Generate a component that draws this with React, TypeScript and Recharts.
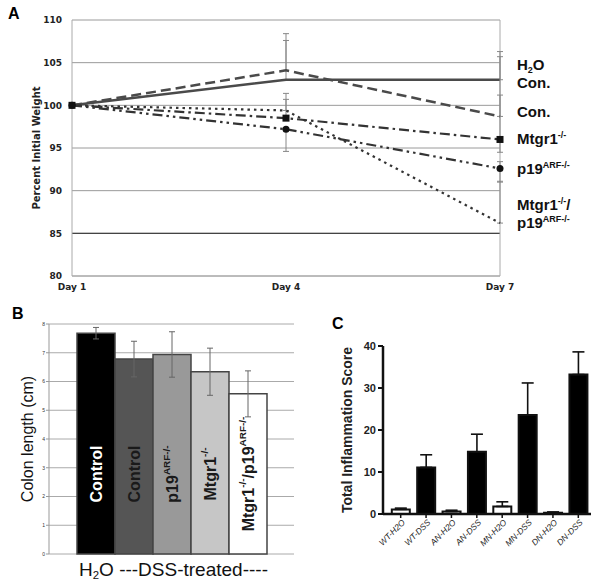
import React from 'react';
import { LineChart, Line, BarChart, Bar, XAxis, YAxis, CartesianGrid, ErrorBar, ReferenceLine, Cell, LabelList, Label } from 'recharts';

// panel A: body weight
const days = ['Day 1', 'Day 4', 'Day 7'];
const h2oCon = [100, 103.0, 103.0];
const dssCon = [100, 104.1, 98.7];
const mtgr1 = [100, 98.5, 96.0];
const p19 = [100, 97.2, 92.6];
const dko = [100, 99.4, 86.2];
const h2oConErr = [[0, 0], [0, 4.6], [0, 2.7]];
const dssConErr = [[0, 0], [0, 4.3], [0, 7.6]];
const mtgr1Err = [[0, 0], [0, 2.2], [1.5, 5.2]];
const p19Err = [[0, 0], [2.6, 0], [1.6, 0.8]];
const dkoErr = [[0, 0], [0, 2.0], [0, 4.9]];
const weightTicks = [80, 85, 90, 95, 100, 105, 110];

// panel B: colon length
const colonGroups = ['Control', 'Control', 'p19^{ARF-/-}', 'Mtgr1^{-/-}', 'Mtgr1^{-/-}/p19^{ARF-/-}'];
const colonLength = [7.68, 6.78, 6.94, 6.34, 5.57];
const colonErr = [0.2, 0.62, 0.79, 0.82, 0.8];
const colonFills = ['#000000', '#555555', '#999999', '#c6c6c6', '#ffffff'];
const colonTicks = [0, 1, 2, 3, 4, 5, 6, 7, 8];

// panel C: inflammation score
const scoreGroups = ['WT-H2O', 'WT-DSS', 'AN-H2O', 'AN-DSS', 'MN-H2O', 'MN-DSS', 'DN-H2O', 'DN-DSS'];
const scores = [1.1, 11.1, 0.6, 14.8, 1.8, 23.6, 0.3, 33.2];
const scoreErr = [0.3, 3.0, 0.3, 4.2, 1.1, 7.6, 0.2, 5.4];
const scoreTicks = [0, 10, 20, 30, 40];

const weightData = days.map((d, i) => ({
  day: d,
  h2oCon: h2oCon[i], dssCon: dssCon[i], mtgr1: mtgr1[i], p19: p19[i], dko: dko[i],
  h2oConErr: h2oConErr[i], dssConErr: dssConErr[i], mtgr1Err: mtgr1Err[i], p19Err: p19Err[i], dkoErr: dkoErr[i],
}));
const colonData = colonGroups.map((g, i) => ({ id: 'g' + i, name: g, value: colonLength[i], err: colonErr[i] }));
const scoreData = scoreGroups.map((g, i) => ({ name: g, value: scores[i], err: [0, scoreErr[i]] }));

const ARIAL = '"Liberation Sans", Arial, sans-serif';
const VERDANA = '"DejaVu Sans", Verdana, sans-serif';

function richParts(s: string) {
  return s.split(/(\^\{[^}]*\})/).filter(Boolean).map(p =>
    p.startsWith('^{') ? { text: p.slice(2, -1), sup: true } : { text: p, sup: false });
}

function HtmlRich({ s }: { s: string }) {
  return (
    <>
      {richParts(s).map((p, i) => p.sup
        ? <sup key={i} style={{ fontSize: '0.6em', lineHeight: 0, verticalAlign: '0.65em' }}>{p.text}</sup>
        : <span key={i}>{p.text}</span>)}
    </>
  );
}

const SquareDot = (props: any) => {
  const { cx, cy, index } = props;
  if (cx == null || cy == null) return <g key={index} />;
  return <rect key={index} x={cx - 3.5} y={cy - 3.5} width={7} height={7} fill="#111" />;
};
const RoundDot = (props: any) => {
  const { cx, cy, index } = props;
  if (cx == null || cy == null) return <g key={index} />;
  return <circle key={index} cx={cx} cy={cy} r={3.5} fill="#111" />;
};

const renderColonLabel = (props: any) => {
  const { x, y, width, height, index } = props;
  const cx = x + width / 2;
  const cy = y + height - 80;
  const fs = 16;
  const color = index === 0 ? '#ffffff' : '#1a1a1a';
  let raised = false;
  const spans = richParts(colonGroups[index]).map((p, i) => {
    let dy = 0;
    if (p.sup && !raised) { dy = -fs * 0.38; raised = true; }
    else if (!p.sup && raised) { dy = fs * 0.38; raised = false; }
    return <tspan key={i} dy={dy} fontSize={p.sup ? fs * 0.62 : fs}>{p.text}</tspan>;
  });
  return (
    <text x={cx} y={cy} transform={`rotate(-90, ${cx}, ${cy})`} textAnchor="middle" dominantBaseline="central"
      fill={color} fontFamily={ARIAL} fontWeight="bold" fontSize={fs}>
      {spans}
    </text>
  );
};

const ScoreTick = (props: any) => {
  const { x, y, payload } = props;
  const tx = x + 5;
  const ty = y + 4;
  return (
    <text x={tx} y={ty} transform={`rotate(-45, ${tx}, ${ty})`} textAnchor="end" fontSize={8.5}
      fontStyle="italic" fill="#222" fontFamily={ARIAL}>
      {payload.value}
    </text>
  );
};

const rightLabels = [
  { top: 57, s: 'H', sub: '2', rest: 'O' },
  { top: 75, s: 'Con.' },
  { top: 104, s: 'Con.' },
  { top: 131, s: 'Mtgr1^{-/-}' },
  { top: 161, s: 'p19^{ARF-/-}' },
  { top: 197, s: 'Mtgr1^{-/-}/' },
  { top: 215, s: 'p19^{ARF-/-}' },
];

export default function App() {
  return (
    <div style={{ position: 'absolute', left: 0, top: 0, width: 600, height: 585, background: '#fff', overflow: 'hidden' }}>
      {/* A */}
      <div style={{ position: 'absolute', left: 8, top: 6, fontFamily: ARIAL, fontWeight: 'bold', fontSize: 16, lineHeight: 1 }}>A</div>
      <div style={{ position: 'absolute', left: 0, top: 0 }}>
        <LineChart width={600} height={300} data={weightData} margin={{ top: 20, right: 100, bottom: 0, left: 0 }}>
          <CartesianGrid vertical={false} stroke="#9a9a9a" strokeWidth={1} />
          <XAxis dataKey="day" height={24} axisLine={{ stroke: '#aaa' }} tickLine={false}
            tick={{ fontSize: 9, fontWeight: 'bold', fill: '#222', fontFamily: VERDANA }} />
          <YAxis width={72} domain={[80, 110]} ticks={weightTicks} axisLine={{ stroke: '#aaa' }} tickLine={false} tickMargin={4}
            tick={{ fontSize: 9, fontWeight: 'bold', fill: '#222', fontFamily: VERDANA }}>
            <Label value="Percent Initial Weight" angle={-90} position="center" dx={0}
              style={{ fontSize: 10, fontWeight: 'bold', fill: '#222', fontFamily: VERDANA }} />
          </YAxis>
          <ReferenceLine y={85} stroke="#444" strokeWidth={1.2} />
          <ReferenceLine x="Day 7" stroke="#aaa" />
          <Line dataKey="h2oCon" stroke="#4a4a4a" strokeWidth={2.5} dot={false} isAnimationActive={false}>
            <ErrorBar dataKey="h2oConErr" width={3} stroke="#888" strokeWidth={1} />
          </Line>
          <Line dataKey="dssCon" stroke="#4a4a4a" strokeWidth={2.5} strokeDasharray="10 5" dot={false} isAnimationActive={false}>
            <ErrorBar dataKey="dssConErr" width={3} stroke="#888" strokeWidth={1} />
          </Line>
          <Line dataKey="mtgr1" stroke="#333" strokeWidth={2.2} strokeDasharray="10 4 2.5 4" dot={SquareDot} isAnimationActive={false}>
            <ErrorBar dataKey="mtgr1Err" width={3} stroke="#888" strokeWidth={1} />
          </Line>
          <Line dataKey="p19" stroke="#333" strokeWidth={2.2} strokeDasharray="10 4 2.5 4 2.5 4" dot={RoundDot} isAnimationActive={false}>
            <ErrorBar dataKey="p19Err" width={3} stroke="#888" strokeWidth={1} />
          </Line>
          <Line dataKey="dko" stroke="#333" strokeWidth={2.2} strokeDasharray="2.5 4" dot={false} isAnimationActive={false}>
            <ErrorBar dataKey="dkoErr" width={3} stroke="#888" strokeWidth={1} />
          </Line>
        </LineChart>
      </div>
      {rightLabels.map((l, i) => (
        <div key={i} style={{ position: 'absolute', left: 517, top: l.top, fontFamily: ARIAL, fontWeight: 'bold', fontSize: 15, lineHeight: 1, color: '#111', whiteSpace: 'nowrap' }}>
          {l.sub
            ? <span>{l.s}<sub style={{ fontSize: '0.6em', lineHeight: 0, verticalAlign: '-0.3em' }}>{l.sub}</sub>{l.rest}</span>
            : <HtmlRich s={l.s} />}
        </div>
      ))}

      {/* B */}
      <div style={{ position: 'absolute', left: 12, top: 306, fontFamily: ARIAL, fontWeight: 'bold', fontSize: 16, lineHeight: 1 }}>B</div>
      <div style={{ position: 'absolute', left: 0, top: 300 }}>
        <BarChart width={300} height={285} data={colonData} margin={{ top: 24, right: 6, bottom: 31, left: 0 }} barCategoryGap={0}>
          <CartesianGrid vertical={false} stroke="#aaa" strokeWidth={1} />
          <XAxis dataKey="id" hide padding={{ left: 28, right: 27 }} />
          <YAxis width={49} domain={[0, 8]} ticks={colonTicks} axisLine={{ stroke: '#999' }} tickSize={3}
            tickLine={{ stroke: '#999' }} tickMargin={1} tick={{ fontSize: 5, fill: '#333', fontFamily: ARIAL }}>
            <Label value="Colon length (cm)" angle={-90} position="center" dx={3}
              style={{ fontSize: 16, fill: '#111', fontFamily: ARIAL }} />
          </YAxis>
          <Bar dataKey="value" stroke="#444" strokeWidth={1.5} isAnimationActive={false}>
            {colonData.map((d, i) => <Cell key={d.id} fill={colonFills[i]} />)}
            <ErrorBar dataKey="err" width={3} stroke="#666" strokeWidth={1} />
            <LabelList dataKey="value" content={renderColonLabel} />
          </Bar>
        </BarChart>
      </div>
      <div style={{ position: 'absolute', left: 79, top: 560, fontFamily: ARIAL, fontSize: 19, lineHeight: 1, color: '#111', whiteSpace: 'nowrap' }}>
        H<sub style={{ fontSize: '0.6em', lineHeight: 0, verticalAlign: '-0.3em' }}>2</sub>O ---DSS-treated----
      </div>

      {/* C */}
      <div style={{ position: 'absolute', left: 332, top: 316, fontFamily: ARIAL, fontWeight: 'bold', fontSize: 16, lineHeight: 1 }}>C</div>
      <div style={{ position: 'absolute', left: 300, top: 320 }}>
        <BarChart width={300} height={265} data={scoreData} margin={{ top: 26, right: 9, bottom: 21, left: 0 }} barCategoryGap="15%">
          <XAxis dataKey="name" height={50} padding={{ left: 5, right: 0 }} axisLine={{ stroke: '#111', strokeWidth: 2.5 }}
            tickSize={4} tickLine={{ stroke: '#111', strokeWidth: 1.5 }} tickMargin={1} interval={0} tick={<ScoreTick />} />
          <YAxis width={83} domain={[0, 40]} ticks={scoreTicks} axisLine={{ stroke: '#111', strokeWidth: 2.5 }}
            tickSize={5} tickLine={{ stroke: '#111', strokeWidth: 2 }} tickMargin={2}
            tick={{ fontSize: 11, fontWeight: 'bold', fill: '#222', fontFamily: ARIAL }}>
            <Label value="Total Inflammation Score" angle={-90} position="center" dx={6}
              style={{ fontSize: 14, fontWeight: 'bold', fill: '#222', fontFamily: ARIAL }} />
          </YAxis>
          <Bar dataKey="value" stroke="#111" strokeWidth={2} isAnimationActive={false}>
            {scoreData.map(d => <Cell key={d.name} fill={d.name.includes('DSS') ? '#000000' : '#ffffff'} />)}
            <ErrorBar dataKey="err" width={6} stroke="#111" strokeWidth={1.6} />
          </Bar>
        </BarChart>
      </div>
    </div>
  );
}
